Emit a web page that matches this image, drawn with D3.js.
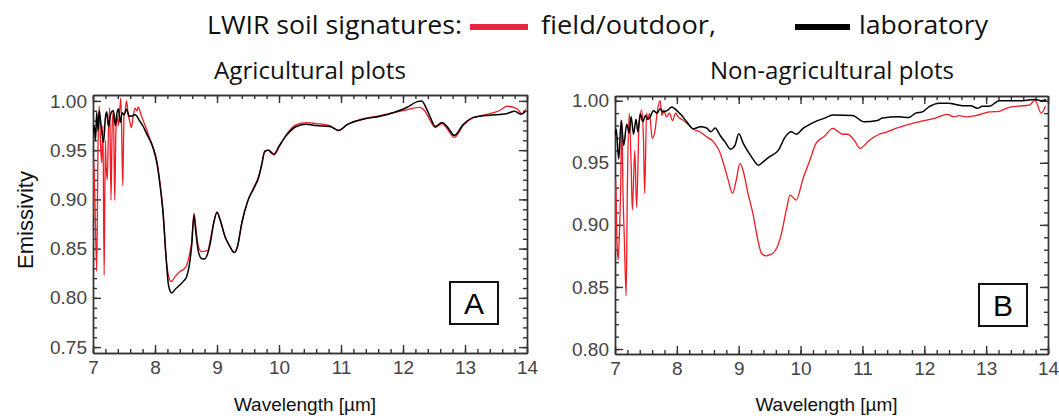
<!DOCTYPE html>
<html>
<head>
<meta charset="utf-8">
<script src="https://cdn.jsdelivr.net/npm/d3@7"></script>
<style>
  body { margin: 0; background: #fff; }
  svg { display: block; }
  .tick text { font-family: 'Liberation Sans', Arial, sans-serif; font-size: 19px; fill: #444; }
  .domain, .tick line { stroke: #333; stroke-width: 1.4; }
</style>
</head>
<body>
<svg id="chart" width="1059" height="418"></svg>
<script>
// wavelength [um], emissivity
const agriField = [
  [7.00,0.885],[7.01,0.942],[7.03,0.90],[7.06,0.827],[7.08,0.95],[7.10,0.995],[7.12,0.96],[7.14,0.937],
  [7.16,0.975],[7.18,0.823],[7.20,0.96],[7.21,0.937],[7.23,0.92],[7.25,0.97],[7.27,0.993],[7.29,0.899],
  [7.31,0.975],[7.33,0.99],[7.35,0.899],[7.37,0.97],[7.39,0.985],[7.41,0.975],[7.43,0.99],[7.45,1.003],
  [7.48,0.914],[7.50,0.985],[7.52,0.99],[7.54,1.0],[7.57,0.985],[7.59,0.98],[7.62,0.973],[7.65,0.985],
  [7.68,0.9926],[7.71,0.99],[7.73,0.994],[7.76,0.989],[7.78,0.985],[7.81,0.98],[7.84,0.975],[7.87,0.970],
  [7.92,0.961],[7.97,0.953],[8.03,0.939],[8.08,0.917],[8.13,0.888],[8.18,0.84],[8.22,0.822],[8.26,0.8165],
  [8.33,0.822],[8.40,0.8266],[8.46,0.829],[8.51,0.833],[8.56,0.845],[8.59,0.856],[8.63,0.886],[8.66,0.87],
  [8.70,0.852],[8.75,0.847],[8.80,0.8475],[8.85,0.848],[8.89,0.858],[8.95,0.877],[9.00,0.887],[9.05,0.88],
  [9.13,0.862],[9.20,0.853],[9.28,0.846],[9.33,0.852],[9.40,0.876],[9.50,0.899],[9.60,0.913],[9.67,0.923],
  [9.72,0.935],[9.77,0.948],[9.83,0.950],[9.88,0.948],[9.92,0.945],[10.00,0.953],[10.12,0.966],[10.28,0.976],
  [10.44,0.978],[10.60,0.977],[10.82,0.975],[10.96,0.970],[11.10,0.976],[11.36,0.982],[11.63,0.985],
  [11.84,0.988],[12.06,0.991],[12.27,0.9935],[12.35,0.990],[12.44,0.98],[12.52,0.973],[12.63,0.977],
  [12.71,0.972],[12.83,0.963],[12.97,0.975],[13.13,0.983],[13.40,0.987],[13.55,0.99],[13.68,0.9946],
  [13.84,0.992],[13.92,0.987],[13.98,0.9915]
];
const agriLab = [
  [7.00,0.968],[7.02,0.975],[7.04,0.96],[7.06,0.9885],[7.08,0.97],[7.10,0.99],[7.13,0.975],[7.17,0.958],
  [7.20,0.983],[7.22,0.989],[7.25,0.974],[7.28,0.985],[7.30,0.989],[7.33,0.99],[7.36,0.975],[7.38,0.985],
  [7.41,0.992],[7.44,0.978],[7.47,0.988],[7.50,0.986],[7.54,0.9916],[7.58,0.985],[7.62,0.9845],[7.68,0.986],
  [7.75,0.98],[7.81,0.974],[7.87,0.966],[7.92,0.960],[7.97,0.952],[8.03,0.937],[8.08,0.915],[8.13,0.886],
  [8.18,0.84],[8.22,0.812],[8.27,0.805],[8.33,0.809],[8.40,0.813],[8.46,0.817],[8.51,0.8215],[8.55,0.832],
  [8.59,0.852],[8.63,0.884],[8.66,0.866],[8.70,0.847],[8.75,0.840],[8.80,0.8395],[8.85,0.845],[8.89,0.855],
  [8.95,0.877],[9.00,0.887],[9.05,0.879],[9.13,0.862],[9.20,0.853],[9.28,0.846],[9.33,0.852],[9.40,0.876],
  [9.50,0.899],[9.60,0.912],[9.67,0.922],[9.72,0.935],[9.77,0.949],[9.83,0.950],[9.88,0.947],[9.92,0.946],
  [10.00,0.954],[10.12,0.965],[10.28,0.974],[10.44,0.9764],[10.60,0.975],[10.82,0.974],[10.96,0.970],
  [11.10,0.976],[11.36,0.9814],[11.63,0.9845],[11.84,0.988],[12.06,0.9933],[12.22,0.999],[12.30,1.0],
  [12.38,0.992],[12.45,0.982],[12.52,0.974],[12.63,0.978],[12.71,0.974],[12.83,0.965],[12.97,0.976],
  [13.13,0.983],[13.40,0.9855],[13.67,0.987],[13.80,0.9895],[13.90,0.9865],[13.97,0.989]
];
const nonAgriField = [
  [7.00,0.88],[7.01,0.937],[7.03,0.89],[7.05,0.8715],[7.07,0.891],[7.09,0.925],[7.11,0.9844],[7.13,0.925],
  [7.15,0.89],[7.18,0.843],[7.20,0.93],[7.23,0.99],[7.26,0.95],[7.28,0.912],[7.32,0.96],[7.35,0.914],
  [7.39,0.9818],[7.43,0.9925],[7.46,0.97],[7.48,0.9253],[7.51,0.99],[7.53,0.985],[7.56,0.99],[7.60,0.9697],
  [7.65,0.977],[7.68,0.99],[7.73,1.0],[7.76,0.988],[7.79,0.9925],[7.83,0.987],[7.88,0.99],[7.93,0.984],
  [7.98,0.99],[8.02,0.987],[8.08,0.985],[8.16,0.9818],[8.26,0.977],[8.37,0.975],[8.48,0.971],[8.59,0.967],
  [8.69,0.959],[8.77,0.9468],[8.83,0.936],[8.90,0.9253],[8.96,0.936],[9.02,0.9495],[9.08,0.942],[9.15,0.9253],
  [9.23,0.909],[9.31,0.8877],[9.37,0.877],[9.45,0.875],[9.50,0.876],[9.55,0.877],[9.62,0.882],[9.69,0.893],
  [9.77,0.912],[9.83,0.924],[9.90,0.921],[9.93,0.920],[10.04,0.9374],[10.15,0.952],[10.25,0.9656],
  [10.39,0.9715],[10.52,0.9777],[10.68,0.973],[10.76,0.973],[10.87,0.968],[10.96,0.9616],[11.11,0.968],
  [11.27,0.973],[11.38,0.9745],[11.54,0.9777],[11.75,0.981],[11.91,0.983],[12.18,0.986],[12.37,0.989],
  [12.48,0.987],[12.56,0.988],[12.67,0.987],[12.83,0.988],[13.05,0.991],[13.21,0.9915],[13.37,0.9947],
  [13.53,0.9957],[13.70,0.9965],[13.79,1.0005],[13.89,0.99],[13.96,0.9957]
];
const nonAgriLab = [
  [7.00,0.972],[7.02,0.977],[7.06,0.953],[7.10,0.984],[7.14,0.964],[7.19,0.981],[7.23,0.974],[7.26,0.987],
  [7.30,0.973],[7.34,0.985],[7.37,0.975],[7.41,0.9895],[7.45,0.983],[7.49,0.988],[7.53,0.985],[7.57,0.987],
  [7.62,0.992],[7.68,0.99],[7.73,0.9935],[7.78,0.991],[7.84,0.992],[7.92,0.995],[8.00,0.992],[8.08,0.988],
  [8.16,0.983],[8.27,0.9774],[8.38,0.979],[8.48,0.978],[8.55,0.975],[8.62,0.978],[8.70,0.972],[8.78,0.9667],
  [8.87,0.961],[8.94,0.964],[9.00,0.9734],[9.08,0.965],[9.21,0.9546],[9.32,0.948],[9.40,0.951],[9.50,0.955],
  [9.64,0.960],[9.75,0.9707],[9.85,0.975],[9.93,0.973],[10.04,0.9777],[10.23,0.983],[10.39,0.986],
  [10.52,0.9885],[10.84,0.988],[11.03,0.983],[11.24,0.984],[11.32,0.986],[11.59,0.987],[11.75,0.9865],
  [11.86,0.99],[11.97,0.991],[12.08,0.9952],[12.24,0.998],[12.40,0.998],[12.51,0.997],[12.62,0.996],
  [12.75,0.996],[12.86,0.9939],[12.94,0.9955],[13.05,0.9955],[13.21,1.0],[13.37,1.0],[13.59,1.0],
  [13.78,1.001],[13.89,1.0],[13.97,1.001]
];

const xTicks = [7, 8, 9, 10, 11, 12, 13, 14];
const yTicksA = [0.75, 0.80, 0.85, 0.90, 0.95, 1.00];
const yTicksB = [0.80, 0.85, 0.90, 0.95, 1.00];

const RED = '#ee1c25';
const svg = d3.select('#chart');

// одна панель графика
function drawPanel(opt) {
  const x = d3.scaleLinear().domain([7, 14]).range([opt.left, opt.right]);
  const y = d3.scaleLinear().domain(opt.yDomain).range([opt.bottom, opt.top]);
  const g = svg.append('g');

  const minorX = d3.range(7, 14.001, 0.2);
  const minorY = d3.range(opt.yDomain[0] + 0.004, opt.yDomain[1], 0.01).map(v => Math.round(v * 100) / 100);

  // минорные тики
  g.append('g').attr('transform', `translate(0,${opt.bottom})`)
    .call(d3.axisBottom(x).tickValues(minorX).tickSize(-4).tickSizeOuter(0).tickFormat(''));
  g.append('g').attr('transform', `translate(0,${opt.top})`)
    .call(d3.axisTop(x).tickValues(minorX).tickSize(-4).tickSizeOuter(0).tickFormat(''));
  g.append('g').attr('transform', `translate(${opt.left},0)`)
    .call(d3.axisLeft(y).tickValues(minorY).tickSize(-4).tickSizeOuter(0).tickFormat(''));
  g.append('g').attr('transform', `translate(${opt.right},0)`)
    .call(d3.axisRight(y).tickValues(minorY).tickSize(-4).tickSizeOuter(0).tickFormat(''));

  // основные тики
  g.append('g').attr('transform', `translate(0,${opt.bottom})`)
    .call(d3.axisBottom(x).tickValues(xTicks).tickSize(-8).tickSizeOuter(0).tickPadding(8).tickFormat(d3.format('d')));
  g.append('g').attr('transform', `translate(0,${opt.top})`)
    .call(d3.axisTop(x).tickValues(xTicks).tickSize(-8).tickSizeOuter(0).tickFormat(''));
  g.append('g').attr('transform', `translate(${opt.left},0)`)
    .call(d3.axisLeft(y).tickValues(opt.yTicks).tickSize(-8).tickSizeOuter(0).tickPadding(6).tickFormat(d3.format('.2f')));
  g.append('g').attr('transform', `translate(${opt.right},0)`)
    .call(d3.axisRight(y).tickValues(opt.yTicks).tickSize(-8).tickSizeOuter(0).tickFormat(''));

  const clipId = 'clip-' + opt.id;
  svg.append('clipPath').attr('id', clipId).append('rect')
    .attr('x', opt.left).attr('y', opt.top)
    .attr('width', opt.right - opt.left).attr('height', opt.bottom - opt.top);

  const line = d3.line().curve(d3.curveMonotoneX).x(d => x(d[0])).y(d => y(d[1]));
  const lines = g.append('g').attr('clip-path', `url(#${clipId})`);
  lines.append('path').datum(opt.field).attr('d', line)
    .attr('fill', 'none').attr('stroke', RED).attr('stroke-width', 1.3);
  lines.append('path').datum(opt.lab).attr('d', line)
    .attr('fill', 'none').attr('stroke', '#000').attr('stroke-width', 1.5);

  // подпись панели в рамке
  g.append('rect').attr('x', opt.box[0]).attr('y', opt.box[1]).attr('width', 48).attr('height', 42)
    .attr('fill', '#fff').attr('stroke', '#111').attr('stroke-width', 2);
  g.append('text').attr('x', opt.box[0] + 24).attr('y', opt.box[1] + 32)
    .attr('text-anchor', 'middle').style('font-family', "'Liberation Sans', Arial, sans-serif")
    .style('font-size', '30px').text(opt.id);

  // заголовок панели и подпись оси
  g.append('text').attr('x', (opt.titleX[0] + opt.titleX[1]) / 2).attr('y', 79)
    .attr('text-anchor', 'middle').attr('textLength', opt.titleX[1] - opt.titleX[0])
    .attr('lengthAdjust', 'spacingAndGlyphs')
    .style('font-family', "'Open Sans', sans-serif").style('font-size', '23px').style('fill', '#111')
    .text(opt.title);
  g.append('text').attr('x', (opt.left + opt.right) / 2 - 5).attr('y', 411)
    .attr('text-anchor', 'middle')
    .style('font-family', "'Liberation Sans', Arial, sans-serif").style('font-size', '19px').style('fill', '#111')
    .text('Wavelength [µm]');
}

drawPanel({
  id: 'A', left: 93, right: 527, top: 95, bottom: 353, yDomain: [0.744, 1.006], yTicks: yTicksA,
  field: agriField, lab: agriLab, box: [450, 282], title: 'Agricultural plots', titleX: [214, 406]
});
drawPanel({
  id: 'B', left: 615, right: 1048, top: 96, bottom: 354, yDomain: [0.796, 1.0038], yTicks: yTicksB,
  field: nonAgriField, lab: nonAgriLab, box: [979, 284], title: 'Non-agricultural plots', titleX: [710, 954]
});

// ось Y
svg.append('text').attr('transform', 'translate(33,220) rotate(-90)')
  .attr('text-anchor', 'middle')
  .style('font-family', "'Liberation Sans', Arial, sans-serif").style('font-size', '22px').style('fill', '#111')
  .text('Emissivity');

// легенда сверху
const legendFont = "'Open Sans', sans-serif";
const legendItems = [
  { text: 'LWIR soil signatures:', x0: 207, x1: 462 },
  { text: 'field/outdoor,', x0: 541, x1: 716 },
  { text: 'laboratory', x0: 859, x1: 988 }
];
svg.selectAll('.legend-text').data(legendItems).enter().append('text')
  .attr('class', 'legend-text')
  .attr('x', d => d.x0).attr('y', 34)
  .attr('textLength', d => d.x1 - d.x0).attr('lengthAdjust', 'spacingAndGlyphs')
  .style('font-family', legendFont).style('font-size', '25px').style('fill', '#111')
  .text(d => d.text);
svg.append('line').attr('x1', 470).attr('x2', 528).attr('y1', 27).attr('y2', 27)
  .attr('stroke', '#e8233f').attr('stroke-width', 6);
svg.append('line').attr('x1', 795).attr('x2', 850).attr('y1', 27).attr('y2', 27)
  .attr('stroke', '#000').attr('stroke-width', 6);
</script>
</body>
</html>
